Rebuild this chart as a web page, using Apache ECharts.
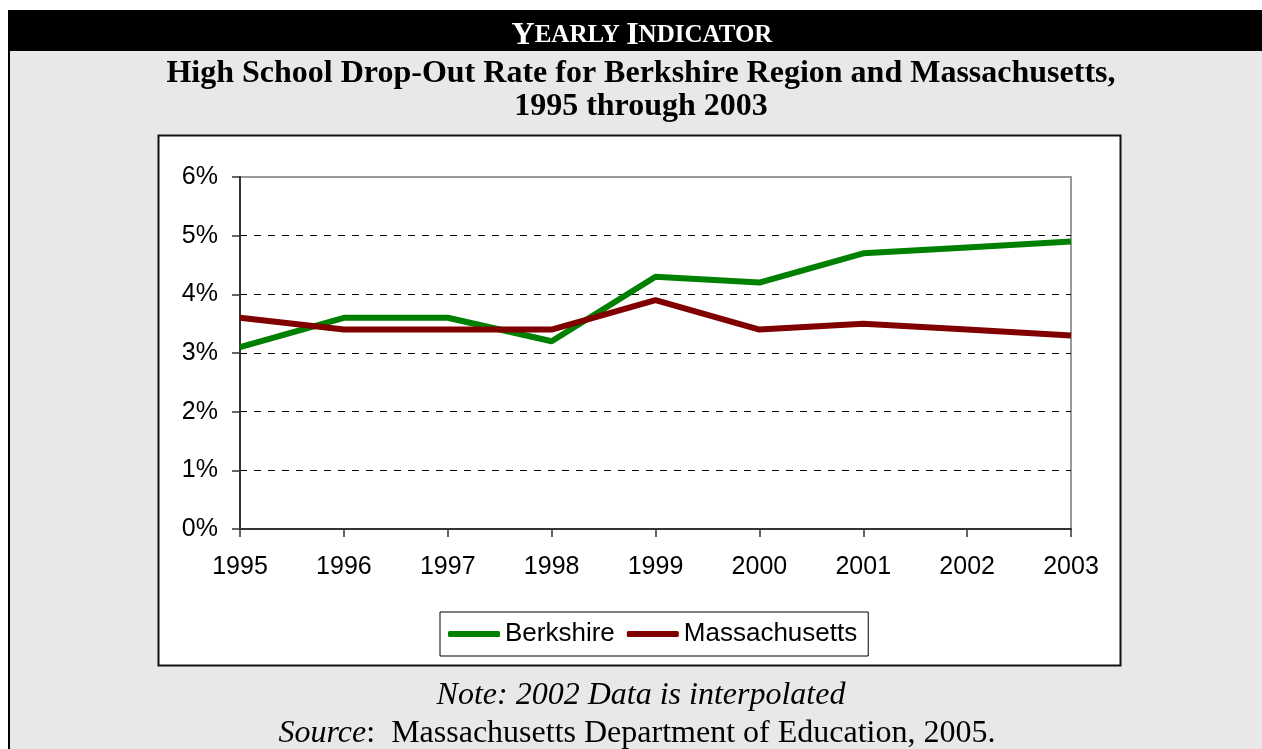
<!DOCTYPE html>
<html>
<head>
<meta charset="utf-8">
<script src="https://cdn.jsdelivr.net/npm/echarts@6/dist/echarts.min.js"></script>
<style>
  html, body { margin: 0; padding: 0; background: #fff; }
  #main { width: 1262px; height: 749px; }
</style>
</head>
<body>
<div id="main"></div>
<script>
// 数据
const years = ["1995", "1996", "1997", "1998", "1999", "2000", "2001", "2002", "2003"];
const berkshire = [3.1, 3.6, 3.6, 3.2, 4.3, 4.2, 4.7, 4.8, 4.9];
const massachusetts = [3.6, 3.4, 3.4, 3.4, 3.9, 3.4, 3.5, 3.4, 3.3];
const yTicks = [0, 1, 2, 3, 4, 5, 6];

const serif = "'Liberation Serif', 'Times New Roman', serif";
const sans = "'Liberation Sans', Arial, sans-serif";

const chart = echarts.init(document.getElementById("main"));

chart.setOption({
    animation: false,
    backgroundColor: "#fff",
    graphic: [
        // 外框 + 灰底
        { type: "rect", z: -20, shape: { x: 9, y: 11, width: 1262, height: 800 },
          style: { fill: "#e8e8e8", stroke: "#000", lineWidth: 2 } },
        // 黑色标题条
        { type: "rect", z: -19, shape: { x: 8, y: 11, width: 1254, height: 40 }, style: { fill: "#000" } },
        { type: "text", z: -18, x: 642, y: 36,
          style: {
              text: "{c|Y}{s|EARLY }{c|I}{s|NDICATOR}",
              align: "center", verticalAlign: "middle",
              rich: {
                  c: { fontFamily: serif, fontWeight: "bold", fontSize: 32, fill: "#fff" },
                  s: { fontFamily: serif, fontWeight: "bold", fontSize: 25, fill: "#fff" }
              }
          } },
        { type: "text", z: -18, x: 641, y: 74,
          style: { text: "High School Drop-Out Rate for Berkshire Region and Massachusetts,",
                   align: "center", verticalAlign: "middle",
                   fontFamily: serif, fontWeight: "bold", fontSize: 32, fill: "#000" } },
        { type: "text", z: -18, x: 641, y: 107,
          style: { text: "1995 through 2003", align: "center", verticalAlign: "middle",
                   fontFamily: serif, fontWeight: "bold", fontSize: 32, fill: "#000" } },
        // 白色图表框
        { type: "rect", z: -15, shape: { x: 158.5, y: 135.5, width: 962, height: 530 },
          style: { fill: "#fff", stroke: "#111", lineWidth: 2 } },
        // 注释
        { type: "text", z: -18, x: 641, y: 696,
          style: { text: "Note: 2002 Data is interpolated", align: "center", verticalAlign: "middle",
                   fontFamily: serif, fontStyle: "italic", fontSize: 32, fill: "#000" } },
        { type: "text", z: -18, x: 637, y: 734,
          style: {
              text: "{i|Source}{n|:  Massachusetts Department of Education, 2005.}",
              align: "center", verticalAlign: "middle",
              rich: {
                  i: { fontFamily: serif, fontStyle: "italic", fontSize: 32, fill: "#000" },
                  n: { fontFamily: serif, fontSize: 32, fill: "#000" }
              }
          } }
    ],
    grid: {
        left: 240, right: 191, top: 177, bottom: 220,
        show: true, borderColor: "#999", borderWidth: 2, backgroundColor: "transparent"
    },
    legend: {
        left: 440, top: 612,
        padding: [9, 11, 9, 8],
        itemGap: 12,
        itemWidth: 52, itemHeight: 6,
        icon: "roundRect",
        borderColor: "#000", borderWidth: 1,
        backgroundColor: "#fff",
        textStyle: { fontFamily: sans, fontSize: 26, color: "#000" },
        data: ["Berkshire", "Massachusetts"]
    },
    xAxis: {
        type: "category",
        data: years,
        boundaryGap: false,
        axisLine: { lineStyle: { color: "#333", width: 2 } },
        axisTick: { show: true, length: 8, lineStyle: { color: "#333", width: 1.5 } },
        axisLabel: { fontFamily: sans, fontSize: 25, color: "#000", margin: 26 },
        splitLine: { show: false }
    },
    yAxis: {
        type: "value",
        min: yTicks[0], max: yTicks[yTicks.length - 1], interval: 1,
        axisLine: { show: true, lineStyle: { color: "#333", width: 2 } },
        axisTick: { show: true, length: 8, lineStyle: { color: "#333", width: 1.5 } },
        axisLabel: { fontFamily: sans, fontSize: 25, color: "#000", margin: 22, formatter: "{value}%" },
        splitLine: { show: true, showMinLine: false, showMaxLine: false,
                     lineStyle: { color: "#000", width: 1, type: [7, 7] } }
    },
    series: [
        { name: "Berkshire", type: "line", data: berkshire, symbol: "none",
          itemStyle: { color: "#008000" }, lineStyle: { color: "#008000", width: 6 } },
        { name: "Massachusetts", type: "line", data: massachusetts, symbol: "none",
          itemStyle: { color: "#800000" }, lineStyle: { color: "#800000", width: 6 } }
    ]
});
</script>
</body>
</html>
